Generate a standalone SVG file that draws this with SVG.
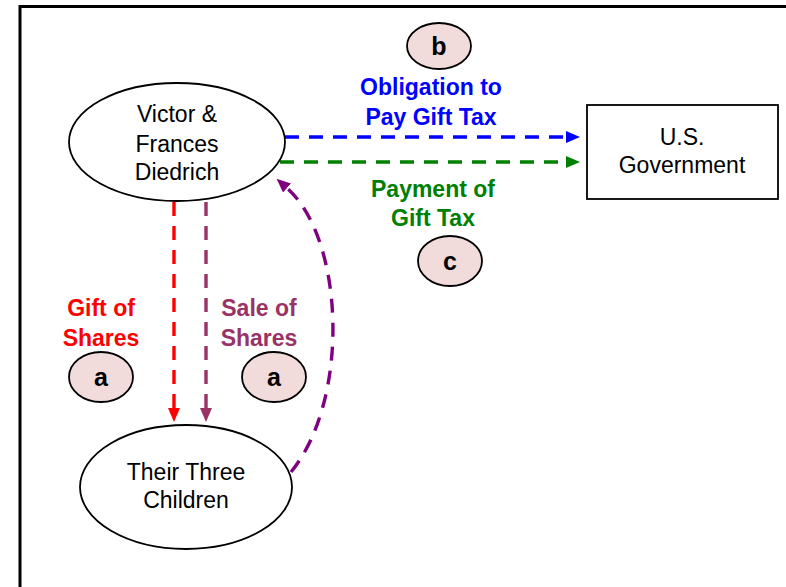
<svg xmlns="http://www.w3.org/2000/svg" width="786" height="587" viewBox="0 0 786 587">
<defs>
<style>
.node{fill:#fff;stroke:#000;stroke-width:1.8}
.nt{font-family:"Liberation Sans",Arial,sans-serif;font-size:23px;fill:#000;text-anchor:middle}
.lbl{font-family:"Liberation Sans",Arial,sans-serif;font-size:23px;font-weight:bold;text-anchor:middle}
.badge{fill:#f2dcdb;stroke:#000;stroke-width:1.8}
.bt{font-family:"Liberation Sans",Arial,sans-serif;font-size:25px;font-weight:bold;fill:#000;text-anchor:middle}
.c{fill:none;stroke-width:3.4;stroke-dasharray:14 10}
</style>
<marker id="ab" markerUnits="userSpaceOnUse" markerWidth="14" markerHeight="12" refX="0" refY="6" orient="auto"><path d="M0,0 L14,6 L0,12 z" fill="#0000ff"/></marker>
<marker id="ag" markerUnits="userSpaceOnUse" markerWidth="14" markerHeight="12" refX="0" refY="6" orient="auto"><path d="M0,0 L14,6 L0,12 z" fill="#008000"/></marker>
<marker id="ar" markerUnits="userSpaceOnUse" markerWidth="14" markerHeight="12" refX="0" refY="6" orient="auto"><path d="M0,0 L14,6 L0,12 z" fill="#ff0000"/></marker>
<marker id="as" markerUnits="userSpaceOnUse" markerWidth="14" markerHeight="12" refX="0" refY="6" orient="auto"><path d="M0,0 L14,6 L0,12 z" fill="#993366"/></marker>
<marker id="ap" markerUnits="userSpaceOnUse" markerWidth="14" markerHeight="12" refX="0" refY="6" orient="auto"><path d="M0,0 L14,6 L0,12 z" fill="#800080"/></marker>
</defs>
<rect x="0" y="0" width="786" height="587" fill="#fff"/>
<path d="M20,590 L20,6.5 L790,6.5" fill="none" stroke="#000" stroke-width="3"/>

<g id="connectors">
<path class="c" d="M285,137 L566,137" stroke="#0000ff" marker-end="url(#ab)"/>
<path class="c" d="M280,162 L566,162" stroke="#008000" marker-end="url(#ag)"/>
<path class="c" d="M174,202 L174,408" stroke="#ff0000" marker-end="url(#ar)"/>
<path class="c" d="M206,202 L206,408" stroke="#993366" marker-end="url(#as)"/>
<path class="c" d="M291,472 C350,400 345,240 287,188" stroke="#800080" marker-end="url(#ap)"/>
</g>

<g id="victor">
<ellipse class="node" cx="177" cy="142" rx="108" ry="59"/>
<text class="nt" x="177" y="122">Victor &amp;</text>
<text class="nt" x="177" y="152">Frances</text>
<text class="nt" x="177" y="180">Diedrich</text>
</g>

<g id="children">
<ellipse class="node" cx="186" cy="487" rx="106" ry="62"/>
<text class="nt" x="186" y="480">Their Three</text>
<text class="nt" x="186" y="508">Children</text>
</g>

<g id="government">
<rect class="node" x="587" y="105" width="191" height="94"/>
<text class="nt" x="682" y="145">U.S.</text>
<text class="nt" x="682" y="173">Government</text>
</g>

<g id="label-obligation">
<text class="lbl" x="431" y="95" fill="#0000ff">Obligation to</text>
<text class="lbl" x="431" y="125" fill="#0000ff">Pay Gift Tax</text>
</g>
<g id="label-payment">
<text class="lbl" x="433" y="197" fill="#008000">Payment of</text>
<text class="lbl" x="433" y="226" fill="#008000">Gift Tax</text>
</g>
<g id="label-gift">
<text class="lbl" x="101" y="316" fill="#ff0000">Gift of</text>
<text class="lbl" x="101" y="346" fill="#ff0000">Shares</text>
</g>
<g id="label-sale">
<text class="lbl" x="259" y="316" fill="#993366">Sale of</text>
<text class="lbl" x="259" y="346" fill="#993366">Shares</text>
</g>

<g id="badge-b">
<ellipse class="badge" cx="439" cy="46" rx="32" ry="23"/>
<text class="bt" x="439" y="55">b</text>
</g>
<g id="badge-c">
<ellipse class="badge" cx="450" cy="261" rx="32" ry="25"/>
<text class="bt" x="450" y="270">c</text>
</g>
<g id="badge-a1">
<ellipse class="badge" cx="101" cy="377" rx="32" ry="25"/>
<text class="bt" x="101" y="386">a</text>
</g>
<g id="badge-a2">
<ellipse class="badge" cx="274" cy="377" rx="32" ry="25"/>
<text class="bt" x="274" y="386">a</text>
</g>
</svg>
